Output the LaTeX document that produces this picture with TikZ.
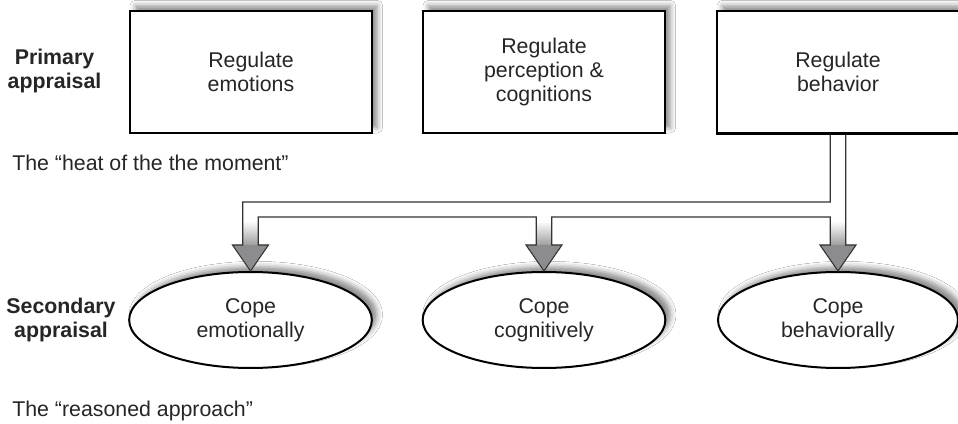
\documentclass[tikz,border=0pt]{standalone}
\usepackage{fontspec}
\setmainfont{Liberation Sans}
\usetikzlibrary{calc,shadows.blur,shapes.geometric}
\definecolor{txt}{HTML}{262626}
\definecolor{headgray}{HTML}{8C8C8E}
\definecolor{linegray}{HTML}{333333}
\tikzset{
  every node/.style={text=txt,font=\fontsize{16pt}{18pt}\selectfont,align=center},
  shadowed/.style={blur shadow={shadow xshift=4pt,shadow yshift=4pt,shadow blur radius=4pt,shadow opacity=45}},
  regbox/.style={draw=black,line width=1.5pt,fill=white,minimum height=91.5pt,inner sep=0pt,shadowed},
  copeell/.style={ellipse,draw=black,line width=1.5pt,fill=white,minimum height=72pt,inner sep=0pt,shadowed},
  sidelabel/.style={font=\fontsize{16pt}{18pt}\selectfont\bfseries},
  note/.style={anchor=west,inner sep=0pt},
  conn/.style={draw=linegray,line width=0.8pt,line join=miter}
}
\begin{document}
\begin{tikzpicture}[x=0.75pt,y=-0.75pt]
\useasboundingbox (0,0) rectangle (958,424);
\fill[white] (0,0) rectangle (958,424);
% boxes
\node[regbox,minimum width=181.5pt] (b1) at (251,72) {Regulate\\emotions};
\node[regbox,minimum width=181.5pt] (b2) at (544,72) {Regulate\\perception \&\\cognitions};
\node[regbox,minimum width=186pt] (b3) at (841,72) {\hspace*{-4.5pt}Regulate\\\hspace*{-4.5pt}behavior};
% ellipses
\node[copeell,minimum width=182pt] (e1) at (250.5,320) {Cope\\emotionally};
\node[copeell,minimum width=182pt] (e2) at (544,320) {Cope\\cognitively};
\node[copeell,minimum width=180pt] (e3) at (838,320) {Cope\\behaviorally};
% side labels
\node[sidelabel] (pa) at (54.5,71) {Primary\\appraisal};
\node[sidelabel] (sa) at (61,320) {Secondary\\appraisal};
\node[note] (heat) at (12,163) {The \textquotedblleft heat of the the moment\textquotedblright};
\node[note] (reas) at (12,411) {The \textquotedblleft reasoned approach\textquotedblright};
% levels of the connector
\coordinate (ybt) at (0,202);
\coordinate (ybb) at (0,217);
\coordinate (yht) at (0,245);
% white body
\fill[white] let \p1=(b3.south),\p2=(e1.north),\p3=(e2.north),\p4=(e3.north),\p5=(ybt),\p6=(ybb),\p7=(yht) in
  (\x4-5.8pt,\y1) -- (\x4-5.8pt,\y5) -- (\x2-5.8pt,\y5) -- (\x2-5.8pt,\y7) -- (\x2+5.8pt,\y7) -- (\x2+5.8pt,\y6)
  -- (\x3-5.8pt,\y6) -- (\x3-5.8pt,\y7) -- (\x3+5.8pt,\y7) -- (\x3+5.8pt,\y6)
  -- (\x4-5.8pt,\y6) -- (\x4-5.8pt,\y7) -- (\x4+5.8pt,\y7) -- (\x4+5.8pt,\y1) -- cycle;
% shaded shafts
\foreach \e in {e1,e2,e3}{
  \shade[top color=white,bottom color=gray!75] let \p2=(\e.north),\p6=(ybb),\p7=(yht) in
    (\x2-5.8pt,\y6-3pt) rectangle (\x2+5.8pt,\y7);
}
% heads
\foreach \e in {e1,e2,e3}{
  \fill[headgray] let \p2=(\e.north),\p7=(yht) in
    (\x2-13.5pt,\y7) -- (\x2,\y2) -- (\x2+13.5pt,\y7) -- cycle;
}
% outline
\draw[conn] let \p1=(b3.south),\p2=(e1.north),\p3=(e2.north),\p4=(e3.north),\p5=(ybt),\p6=(ybb),\p7=(yht) in
  (\x4-5.8pt,\y1) -- (\x4-5.8pt,\y5) -- (\x2-5.8pt,\y5) -- (\x2-5.8pt,\y7) -- (\x2-13.5pt,\y7) -- (\x2,\y2)
  -- (\x2+13.5pt,\y7) -- (\x2+5.8pt,\y7) -- (\x2+5.8pt,\y6)
  -- (\x3-5.8pt,\y6) -- (\x3-5.8pt,\y7) -- (\x3-13.5pt,\y7) -- (\x3,\y3) -- (\x3+13.5pt,\y7) -- (\x3+5.8pt,\y7) -- (\x3+5.8pt,\y6)
  -- (\x4-5.8pt,\y6) -- (\x4-5.8pt,\y7) -- (\x4-13.5pt,\y7) -- (\x4,\y4) -- (\x4+13.5pt,\y7) -- (\x4+5.8pt,\y7) -- (\x4+5.8pt,\y1);
% redraw box 3 border over the stem start
\draw[black,line width=1.5pt] (b3.south west) -- (b3.south east);
\end{tikzpicture}
\end{document}
